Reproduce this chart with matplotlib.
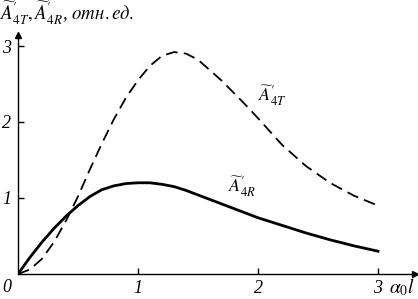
import numpy as np
import matplotlib
matplotlib.use("Agg")
import matplotlib.pyplot as plt

plt.rcParams['mathtext.fontset'] = 'stix'
plt.rcParams['font.family'] = ['Liberation Serif', 'DejaVu Serif']

# Data
x_t = [0, 0.1, 0.2, 0.3, 0.4, 0.5, 0.6, 0.7, 0.8, 0.9, 1.0, 1.1, 1.2, 1.3, 1.4,
       1.5, 1.6, 1.7, 1.8, 1.9, 2.0, 2.2, 2.4, 2.6, 2.8, 3.0]
a4t = [0, 0.06, 0.2, 0.42, 0.7, 1.02, 1.38, 1.72, 2.04, 2.32, 2.55, 2.74, 2.87,
       2.92, 2.9, 2.82, 2.68, 2.54, 2.38, 2.22, 2.05, 1.7, 1.42, 1.2, 1.03, 0.9]

x_r = [0, 0.1, 0.2, 0.3, 0.4, 0.5, 0.6, 0.7, 0.8, 0.9, 1.0, 1.1, 1.2, 1.3, 1.4,
       1.5, 1.6, 1.8, 2.0, 2.2, 2.4, 2.6, 2.8, 3.0]
a4r = [0, 0.22, 0.42, 0.6, 0.76, 0.9, 1.02, 1.11, 1.16, 1.19, 1.2, 1.2, 1.18,
       1.15, 1.1, 1.04, 0.98, 0.86, 0.74, 0.64, 0.54, 0.45, 0.37, 0.3]

xticks = [1, 2, 3]
yticks = [1, 2, 3]

W, H = 418, 299
fig = plt.figure(figsize=(W/100, H/100), dpi=100)
L, R, B, T = 18, 415, 274, 35
ax = fig.add_axes([L/W, 1 - B/H, (R-L)/W, (B-T)/H])
ax.set_xlim(0, (R-L)/120)
ax.set_ylim(0, (B-T)/76)

ax.plot(x_t, a4t, color='black', lw=1.3, dashes=(6.5, 3.5))
ax.plot(x_r, a4r, color='black', lw=2.0)

for s in ['top', 'right']:
    ax.spines[s].set_visible(False)
for s in ['left', 'bottom']:
    ax.spines[s].set_linewidth(1.0)

ax.plot(1, 0, marker='>', color='black', ms=5, transform=ax.transAxes, clip_on=False)
ax.plot(0, 1, marker='^', color='black', ms=5, transform=ax.transAxes, clip_on=False)

ax.set_xticks(xticks)
ax.set_yticks(yticks)
ax.set_xticklabels([str(v) for v in xticks], fontstyle='italic', fontsize=13)
ax.set_yticklabels([str(v) for v in yticks], fontstyle='italic', fontsize=13)
ax.tick_params(direction='in', length=4, width=1, pad=4)
ax.tick_params(axis='y', pad=5)

ax.text(-11/120, -13/76, '0', fontstyle='italic', fontsize=13, ha='center', va='center')
fig.text(389/W, 1 - 287/H, r'$\alpha_0 l$', fontsize=14, ha='left', va='center')

fig.text(0.0, 1 - 13/H,
         r"$\widetilde{A}^{\prime}_{4T}, \widetilde{A}^{\prime}_{4R}$, $\mathit{отн.ед.}$",
         fontsize=13.5, ha='left', va='center')

ax.text(2.0, 2.35, r"$\widetilde{A}^{\prime}_{4T}$", fontsize=13, ha='left', va='center')
ax.text(1.75, 1.15, r"$\widetilde{A}^{\prime}_{4R}$", fontsize=13, ha='left', va='center')

fig.savefig('out.png', dpi=100)
